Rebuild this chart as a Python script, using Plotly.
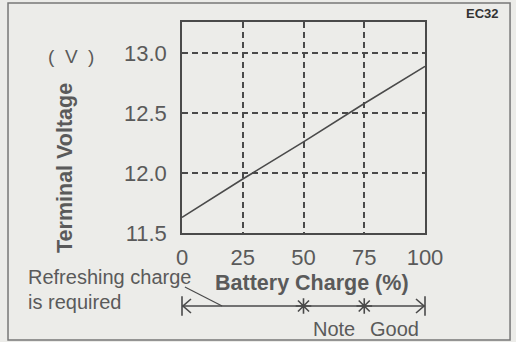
import plotly.graph_objects as go

# Terminal voltage vs. state of charge
charge = [0, 25, 50, 75, 100]
voltage = [11.63, 11.95, 12.26, 12.58, 12.89]

x_ticks = [0, 25, 50, 75, 100]
y_ticks = [11.5, 12.0, 12.5, 13.0]
y_tick_text = ["11.5", "12.0", "12.5", "13.0"]

# Judgement scale under the x axis
zone_edges = [0, 50, 75, 100]
zone_labels = ["", "Note", "Good"]
refresh_note = ["Refreshing charge", "is required"]

W, H = 516, 342
BG = "#ecece9"
INK = "#4a4a4a"
TXT = "#5a5a5a"
FONT = "Liberation Sans, Arial, sans-serif"

fig = go.Figure()

fig.add_trace(go.Scatter(
    x=charge, y=voltage, mode="lines",
    line=dict(color=INK, width=1.6),
    xaxis="x", yaxis="y", showlegend=False, hoverinfo="skip",
))

# scale line with end bars and zone dividers
fig.add_trace(go.Scatter(
    x=[zone_edges[0], zone_edges[-1]], y=[0, 0], mode="lines+markers",
    line=dict(color=INK, width=1.5),
    marker=dict(symbol="line-ns-open", size=14, color=INK,
                line=dict(color=INK, width=1.6)),
    xaxis="x2", yaxis="y2", showlegend=False, hoverinfo="skip", cliponaxis=False,
))
fig.add_trace(go.Scatter(
    x=zone_edges[1:-1], y=[0] * (len(zone_edges) - 2), mode="markers",
    marker=dict(symbol="asterisk-open", size=13, color=INK,
                line=dict(color=INK, width=1.6)),
    xaxis="x2", yaxis="y2", showlegend=False, hoverinfo="skip", cliponaxis=False,
))

shapes = []
# arrow heads at both ends of the scale
for xa, sgn in ((zone_edges[0], 1), (zone_edges[-1], -1)):
    shapes.append(dict(
        type="path", xref="x2", yref="y2",
        xsizemode="pixel", ysizemode="pixel", xanchor=xa, yanchor=0,
        path=f"M {9*sgn} 7 L {sgn} 0 L {9*sgn} -7",
        line=dict(color=INK, width=1.6),
    ))
# leader from the "refreshing" note down to its zone on the scale
shapes.append(dict(type="line", xref="x2", yref="paper",
                   x0=1.2, y0=0.1667, x1=16.5, y1=0.1069,
                   line=dict(color=INK, width=1.2)))
# outer frame
shapes.append(dict(type="rect", xref="paper", yref="paper",
                   x0=-0.716, x1=1.35, y0=0.0, y1=1.0597,
                   line=dict(color="#777", width=1.5), layer="below"))

annotations = [
    dict(text="<b>Terminal Voltage</b>", x=-0.4815, y=0.541, textangle=-90,
         font=dict(size=21.5, color=TXT)),
    dict(text="(&nbsp; V &nbsp;)", x=-0.457, y=0.890, font=dict(size=19, color=TXT)),
    dict(text="<b>Battery Charge (%)</b>", x=0.535, y=0.179,
         font=dict(size=21.5, color=TXT)),
    dict(text=refresh_note[0], x=-0.642, y=0.198, xanchor="left",
         font=dict(size=20, color=TXT)),
    dict(text=refresh_note[1], x=-0.642, y=0.119, xanchor="left",
         font=dict(size=20, color=TXT)),
    dict(text="<b>EC32</b>", x=1.235, y=1.028, font=dict(size=13, color="#333")),
]
for a in annotations:
    a.setdefault("xanchor", "center")
    a.update(xref="paper", yref="paper", showarrow=False, yanchor="middle")
    a["font"]["family"] = FONT

for lo, hi, lab in zip(zone_edges[:-1], zone_edges[1:], zone_labels):
    if lab:
        annotations.append(dict(
            text=lab, xref="x2", yref="paper", x=(lo + hi) / 2, y=0.0346,
            xanchor="center", yanchor="middle",
            showarrow=False, font=dict(size=20, color=TXT, family=FONT),
        ))

axis_common = dict(
    showline=True, mirror=True, linecolor=INK, linewidth=1.5,
    showgrid=True, gridcolor=INK, gridwidth=1.5, griddash="6px,4px",
    zeroline=False, ticks="", tickfont=dict(size=22, color=TXT, family=FONT),
    fixedrange=True, automargin=False,
)

fig.update_layout(
    width=W, height=H,
    margin=dict(l=182, r=91, t=22, b=2, autoexpand=False),
    paper_bgcolor=BG, plot_bgcolor=BG,
    showlegend=False,
    xaxis=dict(domain=[0, 1], range=[0, 100], tickvals=x_ticks,
               ticklabelstandoff=4, anchor="y", **axis_common),
    yaxis=dict(domain=[0.3365, 1], range=[11.5, 13.26], tickvals=y_ticks,
               ticktext=y_tick_text, ticklabelstandoff=9, anchor="x", **axis_common),
    xaxis2=dict(domain=[0, 1], range=[0, 100], visible=False, anchor="y2",
                automargin=False),
    yaxis2=dict(domain=[0.0755, 0.1384], range=[-1, 1], visible=False, anchor="x2",
                automargin=False),
    shapes=shapes,
    annotations=annotations,
)

fig.write_html("out.html")
